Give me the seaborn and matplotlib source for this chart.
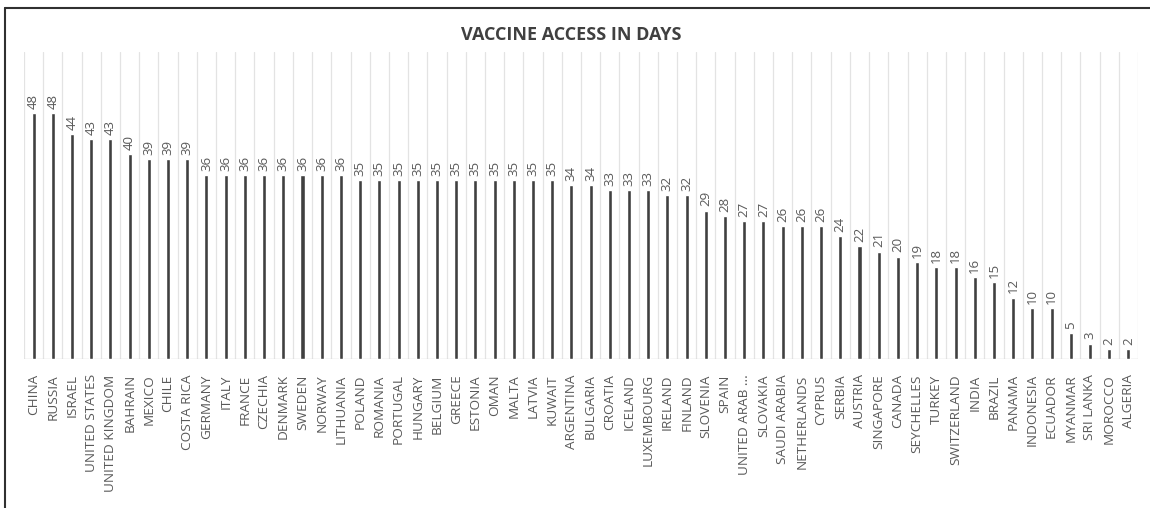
import matplotlib
matplotlib.use("Agg")
import matplotlib.pyplot as plt
from matplotlib.lines import Line2D
import numpy as np
import pandas as pd
import seaborn as sns

countries = [
    "CHINA", "RUSSIA", "ISRAEL", "UNITED STATES", "UNITED KINGDOM", "BAHRAIN",
    "MEXICO", "CHILE", "COSTA RICA", "GERMANY", "ITALY", "FRANCE", "CZECHIA",
    "DENMARK", "SWEDEN", "NORWAY", "LITHUANIA", "POLAND", "ROMANIA", "PORTUGAL",
    "HUNGARY", "BELGIUM", "GREECE", "ESTONIA", "OMAN", "MALTA", "LATVIA",
    "KUWAIT", "ARGENTINA", "BULGARIA", "CROATIA", "ICELAND", "LUXEMBOURG",
    "IRELAND", "FINLAND", "SLOVENIA", "SPAIN", "UNITED ARAB ...", "SLOVAKIA",
    "SAUDI ARABIA", "NETHERLANDS", "CYPRUS", "SERBIA", "AUSTRIA", "SINGAPORE",
    "CANADA", "SEYCHELLES", "TURKEY", "SWITZERLAND", "INDIA", "BRAZIL",
    "PANAMA", "INDONESIA", "ECUADOR", "MYANMAR", "SRI LANKA", "MOROCCO", "ALGERIA",
]
days = [
    48, 48, 44, 43, 43, 40, 39, 39, 39, 36, 36, 36, 36, 36, 36, 36, 36,
    35, 35, 35, 35, 35, 35, 35, 35, 35, 35, 35, 34, 34, 33, 33, 33, 32, 32,
    29, 28, 27, 27, 26, 26, 26, 24, 22, 21, 20, 19, 18, 18, 16, 15, 12,
    10, 10, 5, 3, 2, 2,
]

df = pd.DataFrame({"country": countries, "days": days})

sns.set_style("white")
plt.rcParams["font.family"] = ["Open Sans", "DejaVu Sans"]

fig = plt.figure(figsize=(11.5, 5.08), dpi=100)
ax = fig.add_axes([24 / 1150, 1 - 359 / 508, (1138 - 24) / 1150, (359 - 52) / 508])

sns.barplot(data=df, x="country", y="days", color="#404040", width=0.21,
            saturation=1, ax=ax, zorder=3)

ax.set_xlim(-0.5, len(countries) - 0.5)
ax.set_ylim(0, 60)

# light vertical separators between categories
for b in np.arange(-0.5, len(countries), 1.0):
    ax.axvline(b, color="#e3e3e3", lw=0.9, zorder=1)
ax.axhline(0, color="#d6d6d6", lw=1, zorder=2)

ax.bar_label(ax.containers[0], labels=[str(v) for v in days], rotation=90,
             padding=3, fontsize=9.5, color="#595959")

ax.set_yticks([])
ax.set_xticks(range(len(countries)))
ax.set_xticklabels(countries, rotation=90, fontsize=9.7, color="#595959")
ax.tick_params(axis="x", length=0, pad=11)
ax.set_xlabel("")
ax.set_ylabel("")
for s in ax.spines.values():
    s.set_visible(False)

fig.text(0.497, 1 - 35 / 508, "VACCINE ACCESS IN DAYS", ha="center", va="center",
         fontsize=13, fontweight="bold", color="#404040")

# outer frame (top and left edges)
fig.add_artist(Line2D([5 / 1150, 1], [1 - 8 / 508, 1 - 8 / 508],
                      transform=fig.transFigure, color="#303030", lw=1.5))
fig.add_artist(Line2D([5 / 1150, 5 / 1150], [0, 1 - 8 / 508],
                      transform=fig.transFigure, color="#303030", lw=1.5))

fig.savefig("out.png", dpi=100)
